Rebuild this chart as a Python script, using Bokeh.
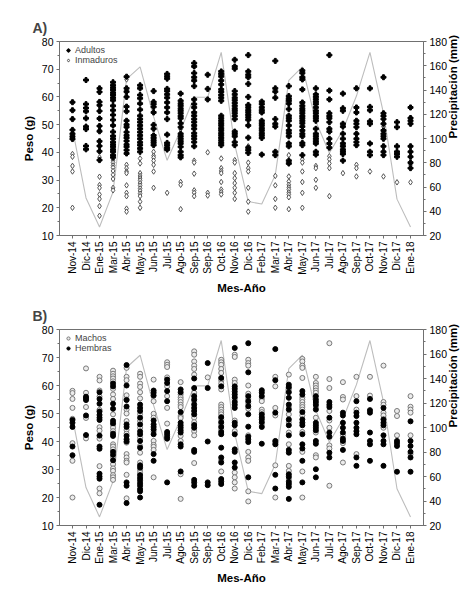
from math import pi
from bokeh.plotting import figure
from bokeh.models import Range1d, LinearAxis, FixedTicker, Legend, LegendItem, Title
from bokeh.layouts import column
from bokeh.embed import file_html
from bokeh.resources import INLINE

meses = ["Nov-14", "Dic-14", "Ene-15", "Mar-15", "Abr-15", "May-15", "Jun-15", "Jul-15",
         "Ago-15", "Sep-15", "Sep-16", "Oct-16", "Nov-16", "Dic-16", "Feb-17", "Mar-17",
         "Abr-17", "May-17", "Jun-17", "Jul-17", "Ago-17", "Sep-17", "Oct-17", "Nov-17",
         "Dic-17", "Ene-18"]

precipitacion = [108, 51, 27, 56, 149, 159, 118, 82, 107, 134, 134, 171, 95, 48, 46, 70,
                 148, 159, 114, 88, 107, 135, 171, 121, 50, 27]

adultos = [
    [58.1, 55.2, 52.0, 48.1, 46.7, 45.7, 44.8],
    [66.1, 57.4, 56.0, 54.8, 52.3, 49.3, 48.4, 42.3, 41.1],
    [63.1, 61.8, 58.2, 57.0, 54.9, 52.2, 49.5, 47.6, 44.0, 42.3, 40.4, 37.2],
    [65.3, 64.2, 63.3, 62.5, 61.5, 60.7, 59.7, 58.8, 56.8, 55.2, 53.5, 51.7, 49.7, 47.4, 45.9, 44.9, 43.7, 42.8, 42.0, 41.0, 40.2, 39.0, 38.2],
    [67.3, 63.1, 61.9, 60.0, 56.5, 54.8, 51.4, 50.0, 49.1, 47.3, 46.1, 45.2, 44.1, 42.8, 42.0, 40.8, 39.6],
    [64.2, 63.1, 60.7, 59.5, 57.6, 55.4, 53.2, 52.0, 50.9, 49.7, 48.5, 47.3, 46.1, 44.9, 43.6, 42.6, 41.4, 40.2],
    [62.1, 58.2, 57.4, 56.4, 54.4, 49.9, 48.5, 46.1, 45.2, 44.3, 43.5, 42.6],
    [68.3, 67.4, 66.6, 62.9, 62.1, 60.9, 59.7, 58.0, 56.2, 54.4, 52.0, 46.4, 43.4, 42.6, 41.7, 41.0],
    [61.2, 58.6, 57.6, 56.8, 55.8, 55.0, 54.1, 53.1, 52.3, 50.5, 49.1, 46.7, 45.8, 44.9, 44.0, 43.2, 42.0, 40.2, 39.0, 38.2],
    [72.2, 71.0, 68.6, 67.1, 65.9, 63.9, 59.1, 57.4, 56.2, 54.4, 53.2, 52.0, 50.9, 49.7, 48.5, 46.9, 45.9, 44.9, 43.7, 42.2],
    [68.0, 62.9, 59.1],
    [69.2, 68.3, 67.4, 65.9, 64.5, 62.7, 61.8, 60.7, 59.7, 58.6, 53.2, 52.3, 51.4, 50.5, 49.7, 48.7, 47.9, 46.9, 46.1, 45.2, 44.3, 43.4, 42.6],
    [73.4, 71.0, 70.2, 62.1, 60.9, 59.7, 58.8, 57.8, 56.8, 55.8, 55.0, 54.1, 53.1, 52.0, 47.5, 46.7, 45.8, 43.7, 42.6],
    [75.1, 69.2, 68.0, 67.1, 64.7, 60.0, 57.1, 56.2, 55.2, 54.4, 53.5, 52.6, 51.7, 49.7, 45.3, 41.7, 40.8, 39.8],
    [58.3, 57.4, 56.2, 55.2, 54.4, 51.4, 50.5, 49.7, 48.7, 47.9, 46.9, 46.1, 45.2, 39.2],
    [73.0, 63.1, 61.9, 59.7, 52.0, 50.3, 49.3, 40.2, 39.0],
    [63.9, 60.3, 59.4, 58.6, 57.6, 55.6, 53.2, 52.3, 51.4, 49.7, 47.9, 46.9, 45.8, 43.2, 42.2, 37.0, 36.0],
    [69.5, 68.6, 67.1, 66.3, 62.7, 58.0, 56.8, 55.8, 55.0, 54.1, 53.1, 52.3, 51.4, 50.5, 49.3, 47.9, 46.7, 45.8, 43.4, 42.6, 39.0],
    [63.1, 60.9, 60.0, 59.1, 58.2, 57.4, 56.2, 55.0, 54.1, 53.1, 52.3, 51.4, 48.5, 46.7, 45.8, 44.9, 44.0, 43.2, 40.2, 39.2],
    [75.1, 62.3, 59.1, 54.1, 53.1, 52.3, 50.9, 48.5, 47.5, 44.9, 43.2, 41.7],
    [61.2, 55.9, 55.0, 50.3, 49.3, 46.7, 44.9, 43.2, 42.2, 41.0, 40.2, 39.4, 37.0],
    [63.1, 56.2, 54.4, 51.4, 50.3, 49.1, 46.7, 44.9, 43.7, 42.6],
    [63.1, 56.4, 55.2, 51.2, 50.3, 43.2, 40.2, 39.0],
    [67.1, 54.1, 53.1, 52.0, 50.3, 47.9, 46.7, 45.8, 44.9, 42.2, 40.2, 39.0],
    [50.9, 49.1, 42.2, 40.2, 39.4, 38.4],
    [56.2, 52.4, 51.4, 50.3, 42.2, 40.2, 38.4, 36.3, 34.3],
]

inmaduros = [
    [39.4, 38.4, 35.1, 33.1, 20.0],
    [],
    [48.1, 38.2, 31.2, 28.2, 27.2, 24.8, 23.2, 20.6, 17.1],
    [37.2, 36.3, 35.3, 34.5, 33.3, 31.9, 30.4, 27.2, 26.3],
    [66.3, 35.5, 34.3, 33.1, 32.5, 28.1, 25.4, 24.2, 19.7, 18.6],
    [37.8, 36.0, 32.5, 31.5, 30.7, 29.9, 28.9, 28.0, 27.0, 26.1, 25.1, 24.2, 22.2, 20.0],
    [40.2, 38.8, 38.1, 37.0, 35.5, 33.1, 27.2],
    [25.4],
    [48.4, 29.3, 28.3, 19.5],
    [37.0, 36.3, 32.3, 26.3, 25.4, 24.2],
    [40.0, 25.4, 24.4],
    [37.8, 34.3, 33.3, 32.5, 29.3, 26.6, 25.7, 24.8],
    [37.2, 36.3, 32.5, 30.7, 28.9, 27.2, 25.4, 23.2],
    [42.2, 36.3, 34.3, 33.1, 27.2, 22.2, 18.6],
    [],
    [39.6, 31.5, 28.1, 23.2, 20.0],
    [39.0, 36.0, 31.3, 29.5, 28.3, 27.4, 26.6, 25.6, 24.8, 23.8, 19.5],
    [37.5, 36.3, 33.1, 29.3, 25.4, 20.0],
    [35.1, 34.3, 30.1, 27.2],
    [38.6, 37.5, 36.0, 34.3, 24.2],
    [32.5],
    [35.5, 34.3, 31.3],
    [33.1],
    [49.3, 31.3],
    [29.2],
    [35.5, 29.2],
]

machos = [
    [58.1, 57.3, 55.2, 52.0, 48.1, 39.4, 33.1, 20.0],
    [66.1, 57.4, 52.3, 48.4, 41.1],
    [63.1, 61.8, 58.2, 56.0, 51.3, 45.1, 43.9, 41.0, 31.2, 23.2, 21.5],
    [65.3, 64.2, 63.3, 62.5, 61.5, 58.8, 56.8, 55.2, 49.7, 45.9, 44.9, 43.7, 39.0, 38.2, 37.2, 34.5, 31.9, 30.4, 29.5, 28.0, 27.2, 26.3],
    [66.3, 63.1, 61.9, 56.5, 55.0, 51.4, 50.0, 47.3, 44.1, 42.8, 39.6, 35.5, 34.3, 33.1, 32.5, 28.1, 19.7],
    [64.2, 63.1, 60.7, 59.5, 57.6, 55.4, 49.7, 47.3, 44.9, 41.4, 38.4, 36.0, 32.5, 29.9, 28.9],
    [62.1, 54.4, 49.9, 48.5, 43.5, 40.2, 38.8, 38.1, 37.0, 27.2],
    [68.3, 67.4, 66.6, 62.9, 59.7, 56.2, 52.0, 46.4],
    [61.2, 56.8, 55.8, 55.0, 54.1, 53.1, 52.3, 49.1, 48.4, 42.0, 40.2, 28.3, 19.5],
    [72.2, 71.0, 68.6, 67.1, 65.9, 63.9, 57.4, 54.4, 48.5, 46.9, 43.7, 42.2, 32.3],
    [62.9],
    [69.2, 68.3, 67.4, 65.9, 64.5, 61.8, 60.7, 58.6, 53.2, 52.3, 51.4, 50.5, 49.7, 47.9, 46.1, 44.3, 33.3, 29.3],
    [71.0, 70.2, 62.1, 60.9, 55.0, 47.5, 43.7, 28.9, 27.2, 25.4, 23.2],
    [69.2, 68.0, 67.1, 60.0, 57.1, 55.2, 53.5, 51.7, 42.2, 36.3, 34.3, 33.1, 22.2, 18.6],
    [55.2, 54.4, 51.4, 50.5, 46.1],
    [63.1, 59.7, 52.0, 49.3, 39.6, 31.5, 20.0],
    [63.9, 58.6, 52.3, 49.7, 46.9, 43.2, 39.0, 31.3, 29.5, 26.6],
    [69.5, 68.6, 67.1, 66.3, 62.7, 55.8, 55.0, 54.1, 53.1, 52.3, 51.4, 49.3, 43.4, 36.3, 29.3, 20.0],
    [63.1, 60.9, 60.0, 59.1, 58.2, 57.4, 52.3, 48.5, 43.2, 35.1, 34.3],
    [75.1, 62.3, 59.1, 50.9, 47.5, 44.9, 38.6, 37.5, 24.2],
    [61.2, 55.9, 55.0, 42.2, 39.4, 32.5],
    [63.1, 56.2, 51.4, 35.5],
    [63.1, 56.4],
    [67.1, 54.1, 53.1, 50.3, 49.3, 44.9],
    [50.9, 49.1, 42.2],
    [56.2, 52.4, 51.4, 50.3, 42.2, 35.5],
]

hembras = [
    [47.7, 46.7, 45.2, 38.2, 35.1],
    [56.0, 55.5, 54.8, 49.3, 42.3],
    [57.6, 55.2, 53.5, 50.7, 49.5, 48.5, 47.7, 42.1, 38.2, 37.4, 28.5, 27.5, 26.7, 17.4],
    [60.7, 59.7, 53.5, 51.7, 47.4, 46.5, 42.8, 42.0, 36.3, 35.3, 33.3],
    [67.3, 60.0, 54.8, 52.5, 46.1, 45.2, 42.0, 40.8, 40.0, 25.4, 24.2, 18.0],
    [53.2, 52.0, 50.9, 48.5, 46.1, 43.6, 42.6, 40.2, 37.8, 31.5, 30.7, 28.0, 27.0, 26.1, 25.1, 24.2, 23.0, 22.2, 20.0],
    [58.2, 57.4, 56.4, 47.5, 46.1, 45.2, 44.3, 42.6, 35.5, 33.1],
    [62.1, 60.9, 58.0, 54.4, 43.4, 42.6, 41.7, 41.0, 25.4],
    [58.6, 57.6, 50.5, 46.7, 45.8, 44.9, 44.0, 43.2, 39.0, 38.2, 29.3],
    [62.5, 59.1, 56.2, 55.0, 53.2, 52.0, 50.9, 49.7, 45.9, 44.9, 37.0, 36.3, 26.3, 25.4, 24.2],
    [68.0, 59.1, 40.0, 25.4, 24.4],
    [62.7, 59.7, 48.7, 46.9, 45.2, 43.4, 42.6, 37.8, 34.3, 32.5, 26.6, 25.7, 24.8],
    [73.4, 59.7, 58.8, 57.8, 56.8, 55.8, 54.1, 53.1, 52.0, 46.7, 45.8, 42.6, 37.2, 36.3, 32.5, 30.7],
    [75.1, 64.7, 56.2, 54.4, 52.6, 49.7, 45.3, 41.7, 40.8, 39.8, 27.2],
    [58.3, 57.4, 56.2, 49.7, 48.7, 47.9, 46.9, 45.2, 39.2],
    [73.0, 61.9, 50.3, 40.2, 39.0, 28.1, 23.2],
    [60.3, 59.4, 57.6, 55.6, 53.2, 51.4, 47.9, 45.8, 42.2, 37.0, 36.0, 28.3, 27.4, 25.6, 24.8, 23.8, 19.5],
    [58.0, 56.8, 50.5, 47.9, 46.7, 45.8, 42.6, 39.0, 37.5, 33.1, 25.4],
    [56.2, 55.0, 54.1, 53.1, 51.4, 46.7, 45.8, 44.9, 44.0, 40.2, 39.2, 30.1, 27.2],
    [54.1, 53.1, 52.3, 48.5, 43.2, 41.7, 36.0, 34.3],
    [50.3, 49.3, 46.7, 44.9, 43.2, 41.0, 40.2, 37.0],
    [54.4, 50.3, 49.1, 46.7, 44.9, 43.7, 42.6, 34.3, 31.3],
    [55.2, 51.2, 50.3, 43.2, 40.2, 39.0, 33.1],
    [52.0, 47.9, 46.7, 45.8, 42.2, 40.2, 39.0, 31.3],
    [40.2, 39.4, 38.4, 29.2],
    [47.2, 40.2, 38.4, 36.3, 34.3, 29.2],
]

peso_ticks = [10, 20, 30, 40, 50, 60, 70, 80]
precip_ticks = [20, 40, 60, 80, 100, 120, 140, 160, 180]

FONT = "Liberation Sans"
AXIS_COL = "#707070"


def flat(groups):
    xs, ys = [], []
    for i, g in enumerate(groups):
        for v in g:
            xs.append(i)
            ys.append(v)
    return xs, ys


def style_axis(ax):
    ax.axis_line_color = AXIS_COL
    ax.major_tick_line_color = AXIS_COL
    ax.minor_tick_line_color = AXIS_COL
    ax.major_tick_out = 3
    ax.major_tick_in = 0
    ax.minor_tick_out = 2
    ax.minor_tick_in = 0
    ax.major_label_text_font = FONT
    ax.major_label_text_font_size = "10.5px"
    ax.major_label_text_color = "black"
    ax.major_label_standoff = 3
    ax.axis_label_text_font = FONT
    ax.axis_label_text_font_size = "11.5px"
    ax.axis_label_text_font_style = "bold"
    ax.axis_label_text_color = "black"
    ax.axis_label_standoff = 4


def panel(tag, height, top, bottom):
    p = figure(width=474, height=height, output_backend="svg", toolbar_location=None,
               x_range=Range1d(-0.96, 25.96), y_range=Range1d(10, 80),
               min_border_left=59, min_border_right=51, min_border_top=top,
               min_border_bottom=bottom)
    p.extra_y_ranges = {"precip": Range1d(20, 180)}
    p.xgrid.visible = False
    p.ygrid.visible = False
    p.outline_line_color = AXIS_COL
    p.background_fill_color = "white"
    p.border_fill_color = "white"

    t = Title(text=tag, align="left", offset=-27, text_font=FONT,
              text_font_size="14px", text_font_style="bold", standoff=12)
    p.add_layout(t, "above")

    xa = p.xaxis[0]
    xa.ticker = FixedTicker(ticks=list(range(len(meses))))
    xa.major_label_overrides = {i: m for i, m in enumerate(meses)}
    xa.major_label_orientation = pi / 2
    xa.axis_label = "Mes-Año"
    style_axis(xa)
    xa.major_label_text_font_size = "10px"

    ya = p.yaxis[0]
    ya.ticker = FixedTicker(ticks=peso_ticks,
                            minor_ticks=[v + 5 for v in peso_ticks[:-1]])
    ya.axis_label = "Peso (g)"
    style_axis(ya)

    ra = LinearAxis(y_range_name="precip", axis_label="Precipitación (mm)",
                    ticker=FixedTicker(ticks=precip_ticks,
                                       minor_ticks=[v + 10 for v in precip_ticks[:-1]]))
    style_axis(ra)
    ra.axis_label_standoff = 3
    try:
        ra.axis_label_orientation = pi / 2
    except Exception:
        pass
    p.add_layout(ra, "right")

    p.line(list(range(len(meses))), precipitacion, y_range_name="precip",
           line_color="#bdbdbd", line_width=1.1)
    return p


# Panel A
pa = panel("A)", 296, 41, 58)
ax_, ay_ = flat(adultos)
ix_, iy_ = flat(inmaduros)
r_i = pa.scatter(ix_, iy_, marker="diamond", size=5.5, fill_color="white",
                 line_color="#555555", line_width=1)
r_a1 = pa.scatter(ax_, ay_, marker="plus", size=5, color="black")
r_a2 = pa.scatter(ax_, ay_, marker="diamond", size=3.5, color="black")
leg_a = Legend(items=[LegendItem(label="Adultos", renderers=[r_a1, r_a2]),
                      LegendItem(label="Inmaduros", renderers=[r_i])],
               location="top_left")

# Panel B
pb = panel("B)", 293, 33, 64)
mx_, my_ = flat(machos)
hx_, hy_ = flat(hembras)
r_m = pb.scatter(mx_, my_, marker="circle", size=5, fill_color="#ececec",
                 line_color="#7a7a7a", line_width=1)
r_h = pb.scatter(hx_, hy_, marker="circle", size=5, color="black")
leg_b = Legend(items=[LegendItem(label="Machos", renderers=[r_m]),
                      LegendItem(label="Hembras", renderers=[r_h])],
               location="top_left")

for p, lg in ((pa, leg_a), (pb, leg_b)):
    lg.background_fill_alpha = 0
    lg.border_line_color = None
    lg.label_text_font = FONT
    lg.label_text_font_size = "9px"
    lg.label_standoff = 2
    lg.glyph_width = 10
    lg.glyph_height = 8
    lg.label_height = 8
    lg.spacing = 0
    lg.padding = 2
    lg.margin = 4
    p.add_layout(lg)

layout = column(pa, pb, spacing=0)
open("out.html", "w").write(file_html(layout, INLINE))
